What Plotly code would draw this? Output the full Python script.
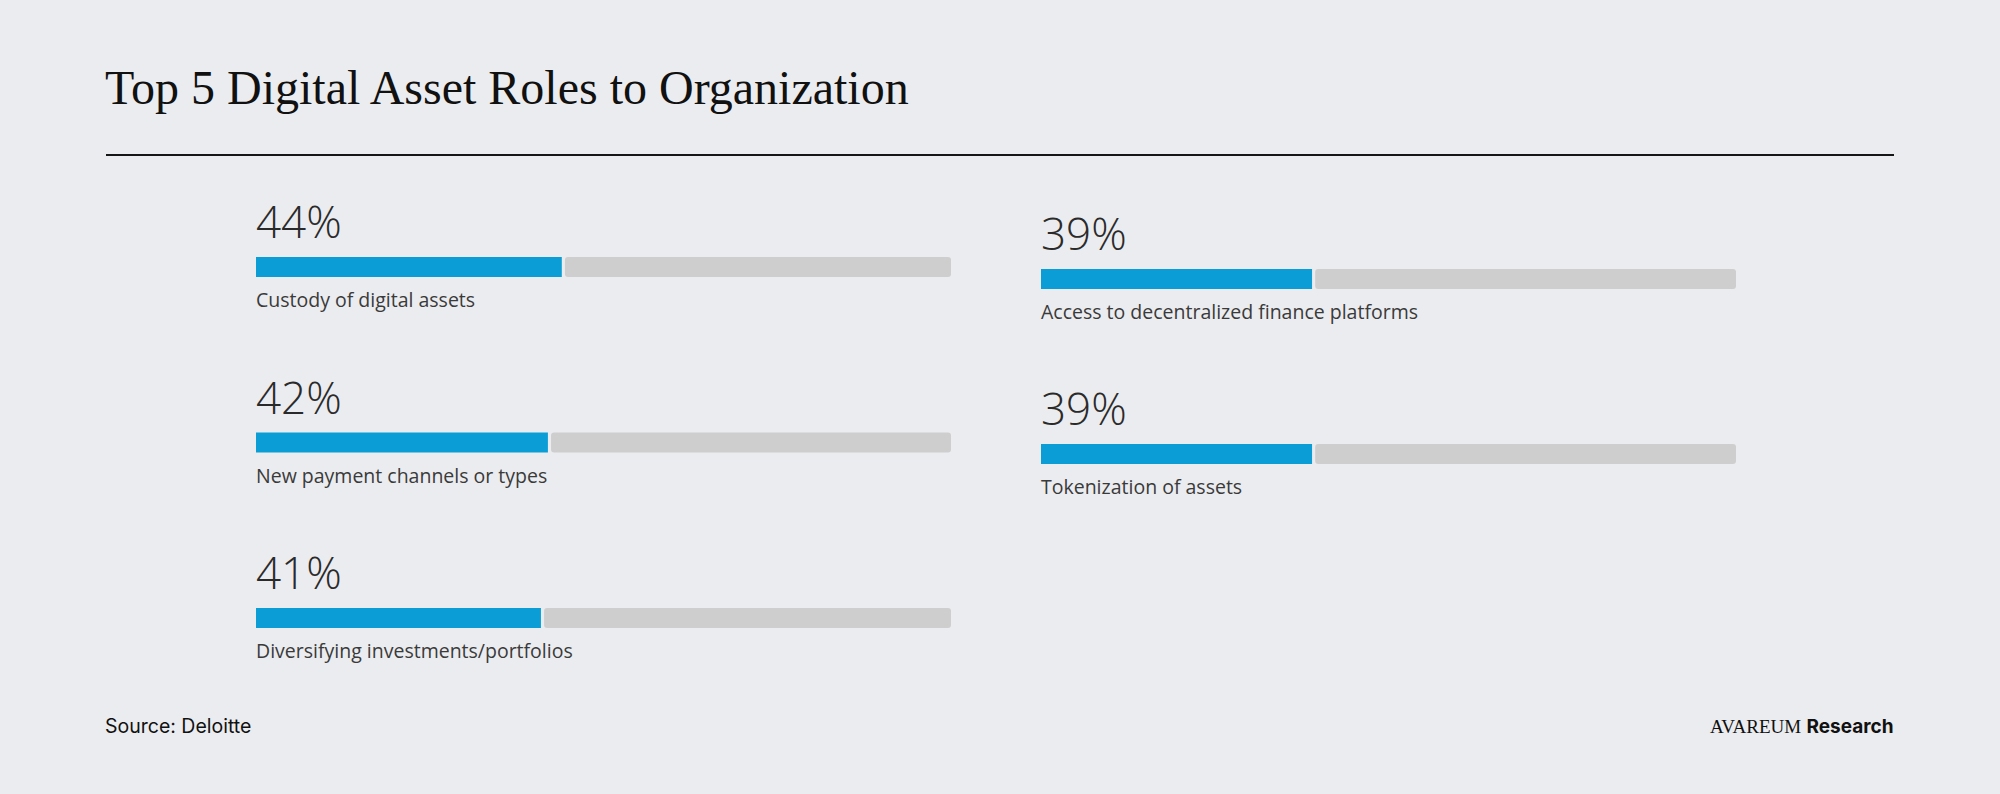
import plotly.graph_objects as go

# ---- data ----
left_labels = ["Custody of digital assets", "New payment channels or types", "Diversifying investments/portfolios"]
left_values = [44, 42, 41]
right_labels = ["Access to decentralized finance platforms", "Tokenization of assets"]
right_values = [39, 39]

title = "Top 5 Digital Asset Roles to Organization"
source = "Source: Deloitte"

W, H = 2000, 794
BG = "#ebecef"
BLUE = "#0b9dd5"
GRAY = "#cecece"

fig = go.Figure()

def px_x(p):
    return p / W

annotations = []
columns = [
    (left_labels, left_values, "x", 257.0, 175.5),
    (right_labels, right_values, "x2", 269.0, 175.0),
]
for labels, values, xa, top0, step in columns:
    tops = [top0 + step * i for i in range(len(values))]
    centers = [t + 10 for t in tops]
    gap = 0.45
    fig.add_trace(go.Bar(
        orientation="h", y=centers, x=[100 - v - gap for v in values],
        base=[v + gap for v in values], width=20, xaxis=xa, yaxis="y",
        marker=dict(color=GRAY, line=dict(width=0), cornerradius=3),
        hoverinfo="skip", showlegend=False))
    fig.add_trace(go.Bar(
        orientation="h", y=centers, x=values, base=[0] * len(values),
        width=20, xaxis=xa, yaxis="y",
        marker=dict(color=BLUE, line=dict(width=0)),
        hoverinfo="skip", showlegend=False))
    for t, v, lab in zip(tops, values, labels):
        annotations.append(dict(
            x=0, y=t - 4, xref=xa, yref="y", text=f"{v}%", showarrow=False,
            xanchor="left", yanchor="bottom", xshift=-2,
            font=dict(family="Open Sans", size=44, color="#2a2a2a", weight=300)))
        annotations.append(dict(
            x=0, y=t + 58, xref=xa, yref="y", text=lab, showarrow=False,
            xanchor="left", yanchor="bottom", xshift=-2,
            font=dict(family="Open Sans", size=19.5, color="#3a3a3a")))

# title
annotations.append(dict(
    x=px_x(106), y=116, xref="paper", yref="y", text=title, showarrow=False,
    xanchor="left", yanchor="bottom", xshift=-3,
    font=dict(family="Liberation Serif", size=48, color="#111111")))
# source
annotations.append(dict(
    x=px_x(106), y=740, xref="paper", yref="y", text=source, showarrow=False,
    xanchor="left", yanchor="bottom", xshift=-3,
    font=dict(family="Inter", size=19.5, color="#111111")))
# brand
annotations.append(dict(
    x=px_x(1894), y=740, xref="paper", yref="y",
    text="<span style='font-family:Liberation Serif;font-weight:300'>AVAREUM</span> <b>Research</b>",
    showarrow=False, xanchor="right", yanchor="bottom", xshift=2,
    font=dict(family="Inter", size=19, color="#111111")))

shapes = [dict(type="line", xref="paper", yref="y", x0=px_x(106), x1=px_x(1894),
               y0=155, y1=155, line=dict(color="#151515", width=2))]

fig.update_layout(
    width=W, height=H, margin=dict(l=0, r=0, t=0, b=0),
    paper_bgcolor=BG, plot_bgcolor=BG, barmode="overlay",
    xaxis=dict(domain=[256 / W, 951 / W], range=[0, 100], visible=False, fixedrange=True),
    xaxis2=dict(domain=[1041 / W, 1736 / W], range=[0, 100], visible=False, fixedrange=True),
    yaxis=dict(domain=[0, 1], range=[H, 0], visible=False, fixedrange=True),
    annotations=annotations, shapes=shapes, showlegend=False,
)

fig.write_html("out.html", config={"displayModeBar": False},
               post_script="document.body.style.margin='0';document.body.style.overflow='hidden';document.body.style.background='" + BG + "';")
